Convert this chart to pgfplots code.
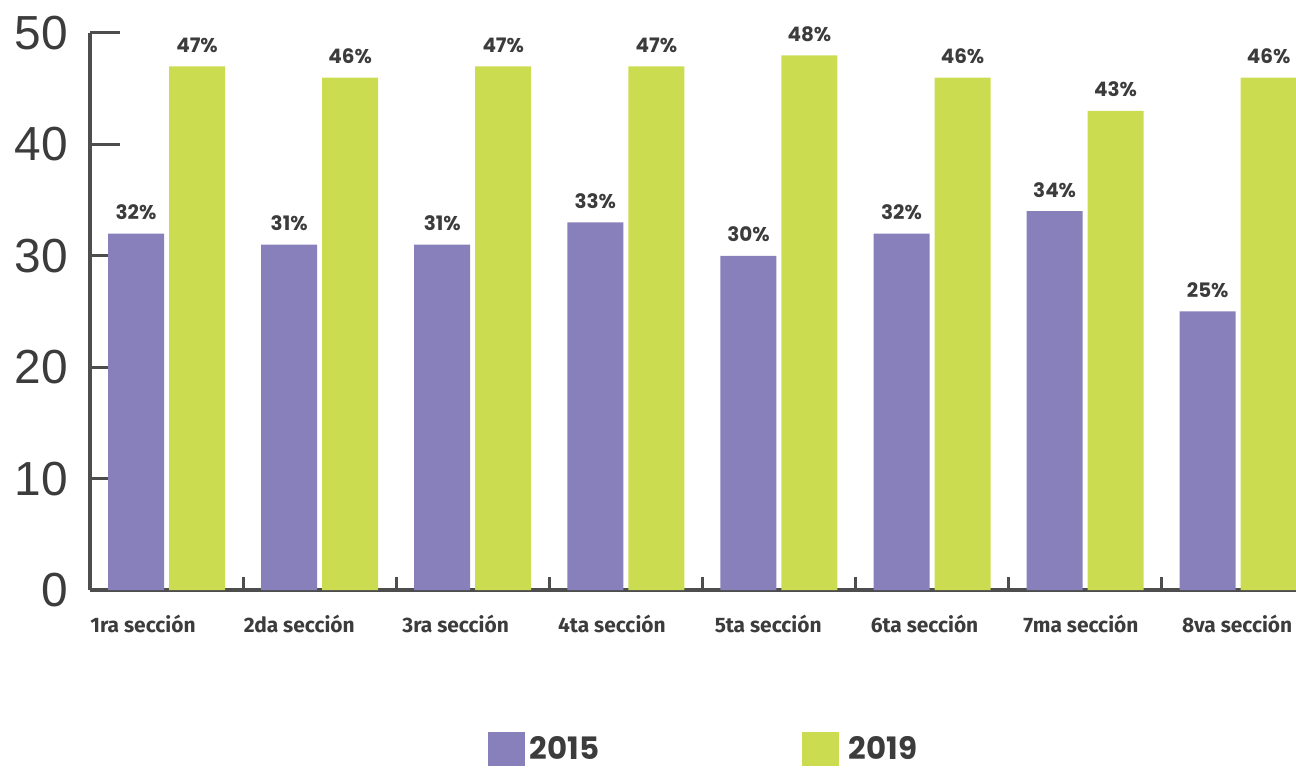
\documentclass[border=0pt]{standalone}
\usepackage{pgfplots}
\pgfplotsset{compat=1.18}
\usepackage{fontspec}
\setmainfont{Fira Sans}
\newfontfamily\tickfont{Liberation Sans}
\newfontfamily\valfont{Poppins}
\definecolor{c2015}{HTML}{8780BA}
\definecolor{c2019}{HTML}{CCDC50}
\definecolor{txt}{HTML}{3C3C3C}
\definecolor{axc}{HTML}{4D4D4D}

\begin{document}
\begin{tikzpicture}
\useasboundingbox (0,0) rectangle (1296bp,768bp);
\begin{axis}[
  at={(90bp,178bp)}, anchor=south west,
  scale only axis, width=1206bp, height=557bp,
  ymin=0, ymax=50, ytick={0,10,...,50},
  xmin=-0.5, xmax=7.377,
  ybar=5bp, bar width=56bp,
  axis lines=left,
  axis line style={-, line width=3bp, axc},
  tick align=inside,
  major tick length=30bp,
  minor tick length=13bp,
  ytick style={line width=3bp, axc},
  major x tick style={draw=none},
  minor x tick style={line width=3bp, axc},
  xtick={-0.154,0.867,1.888,2.909,3.930,4.951,5.972,6.993},
  minor xtick={0.5,1.5,...,6.5},
  xticklabels={1ra sección,2da sección,3ra sección,4ta sección,5ta sección,6ta sección,7ma sección,8va sección},
  xticklabel style={font=\fontsize{21}{21}\selectfont\bfseries, text=txt, anchor=base, yshift=-42bp, inner sep=0pt},
  yticklabel style={font=\tickfont\fontsize{48}{48}\selectfont, text=txt, inner sep=0pt, xshift=-22bp},
  /pgf/number format/assume math mode=true,
  clip=false,
  nodes near coords={\pgfmathprintnumber{\pgfplotspointmeta}\%},
  every node near coord/.append style={font=\valfont\fontsize{20}{20}\selectfont\bfseries, text=txt, anchor=base, yshift=14bp, inner sep=0pt},
  legend columns=2,
  legend image code/.code={\fill[#1,draw=none] (0bp,-17bp) rectangle (37bp,17bp);},
  legend style={at={(0.330,-0.285)}, anchor=west, draw=none, fill=none, inner sep=0pt, outer sep=0pt,
    nodes={inner sep=0pt}, column sep=0pt, font=\valfont\fontsize{31}{31}\selectfont\bfseries, text=txt, cells={anchor=west}},
]
\addplot[fill=c2015, draw=none] coordinates {(0,32) (1,31) (2,31) (3,33) (4,30) (5,32) (6,34) (7,25)};
\addlegendentry{\makebox[277bp][l]{\hspace{5bp}2015}}
\addplot[fill=c2019, draw=none] coordinates {(0,47) (1,46) (2,47) (3,47) (4,48) (5,46) (6,43) (7,46)};
\addlegendentry{\makebox[120bp][l]{\hspace{10bp}2019}}
\end{axis}
\end{tikzpicture}
\end{document}
